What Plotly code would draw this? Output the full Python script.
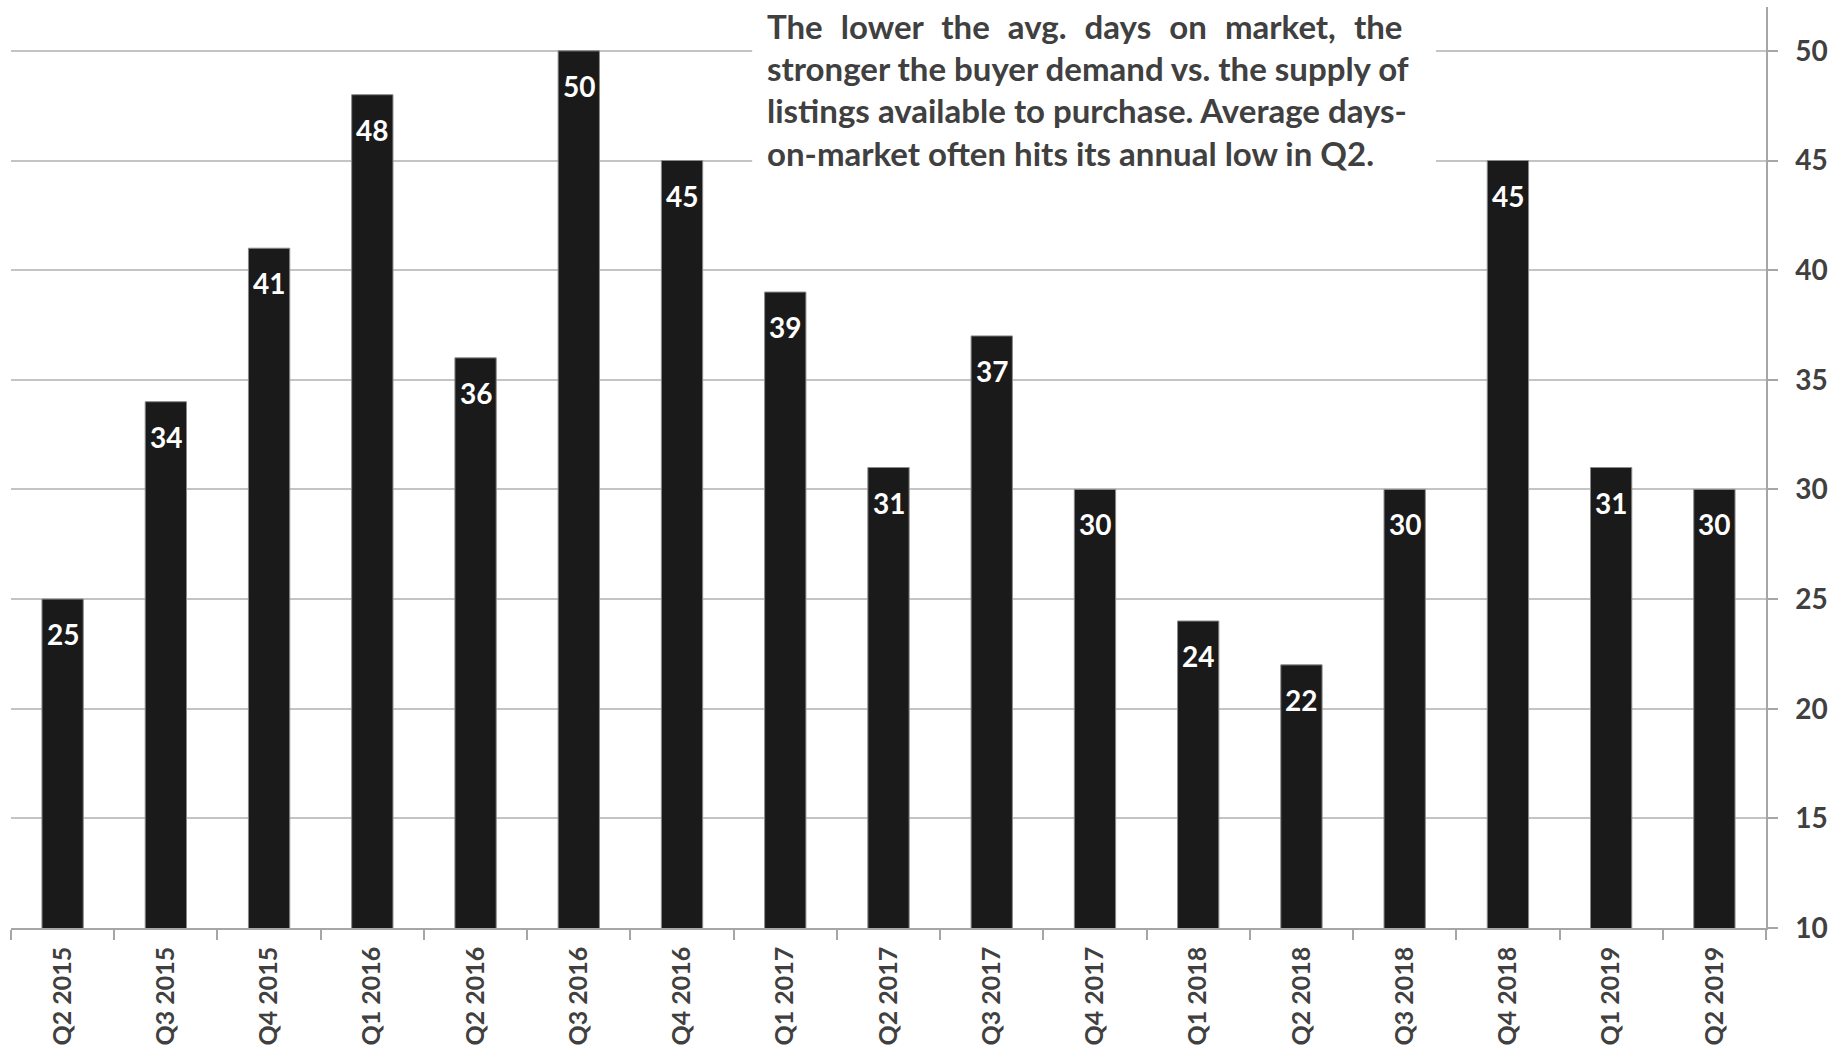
import plotly.graph_objects as go

categories = ["Q2 2015", "Q3 2015", "Q4 2015", "Q1 2016", "Q2 2016", "Q3 2016", "Q4 2016",
              "Q1 2017", "Q2 2017", "Q3 2017", "Q4 2017", "Q1 2018", "Q2 2018", "Q3 2018",
              "Q4 2018", "Q1 2019", "Q2 2019"]
days_on_market = [25, 34, 41, 48, 36, 50, 45, 39, 31, 37, 30, 24, 22, 30, 45, 31, 30]
y_ticks = [10, 15, 20, 25, 30, 35, 40, 45, 50]
note_lines = [
    "The lower the avg. days on market, the",
    "stronger the buyer demand vs. the supply of",
    "listings available to purchase. Average days-",
    "on-market often hits its annual low in Q2.",
]
# extra spacing per word gap to imitate the justified paragraph
note_gap = ["\u00a0\u200a", None, None, None]

W, H = 1843, 1051
L, R, T, B = 10.7, 77, 7, 123.3
pw, ph = W - L - R, H - T - B

def px_x(x):
    return (x - L) / pw

def px_y(y):
    return (H - B - y) / ph

FONT = "Lato"
GRAY = "#404040"

fig = go.Figure()
fig.add_trace(go.Bar(
    x=categories, y=days_on_market,
    marker=dict(color="#1a1a1a", line=dict(color="#8a8a8a", width=1)),
    width=0.4,
    hoverinfo="x+y",
))

annotations = []
for c, v in zip(categories, days_on_market):
    annotations.append(dict(
        x=c, y=v, xref="x", yref="y", text=str(v), showarrow=False,
        yshift=-35, font=dict(family=FONT, size=28, color="white", weight="bold"),
    ))

line_centers = [26, 68, 110, 153]
for txt, yc, gap in zip(note_lines, line_centers, note_gap):
    if gap:
        txt = (" " + gap).join(txt.split(" "))
    annotations.append(dict(
        x=px_x(765), y=px_y(yc), xref="paper", yref="paper", text=txt,
        showarrow=False, xanchor="left", yanchor="middle",
        font=dict(family=FONT, size=33, color=GRAY, weight="bold"),
    ))

fig.add_shape(type="rect", xref="paper", yref="paper",
              x0=px_x(752), x1=px_x(1436), y0=px_y(182), y1=px_y(0),
              fillcolor="white", line=dict(width=0), layer="above")

fig.update_layout(
    width=W, height=H,
    margin=dict(l=L, r=R, t=T, b=B, autoexpand=False),
    plot_bgcolor="white", paper_bgcolor="white",
    showlegend=False,
    annotations=annotations,
    xaxis=dict(
        type="category", showline=True, linecolor="#a6a6a6", linewidth=1.5,
        ticks="outside", tickson="boundaries", ticklen=10, tickcolor="#a6a6a6",
        tickwidth=1.5, tickangle=-90, showgrid=False, ticklabelstandoff=7,
        tickfont=dict(family=FONT, size=25, color=GRAY, weight="bold"),
        range=[-0.5, len(categories) - 0.5],
    ),
    yaxis=dict(
        side="right", range=[10, 52], tickvals=y_ticks,
        showgrid=True, gridcolor="#c4c4c4", gridwidth=1.5,
        showline=True, linecolor="#a6a6a6", linewidth=1.5,
        ticks="outside", ticklen=10, tickcolor="#a6a6a6", tickwidth=1.5,
        ticklabelstandoff=12,
        tickfont=dict(family=FONT, size=28, color=GRAY, weight="bold"),
        zeroline=False,
    ),
    bargap=0.6,
)

fig.write_html("out.html")
